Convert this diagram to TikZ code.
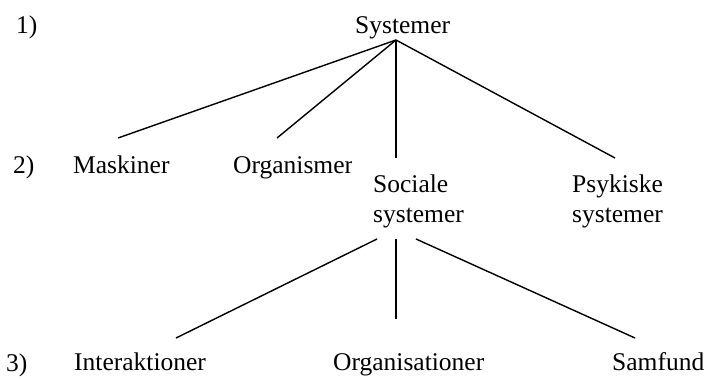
\documentclass[tikz,border=0pt]{standalone}
\usepackage{fontspec}
\setmainfont{Liberation Serif}
\begin{document}
\begin{tikzpicture}[x=1pt,y=-1pt,
  lbl/.style={anchor=base west,inner sep=0pt,font=\fontsize{25.5}{30}\selectfont},
  link/.style={draw=black,line width=1.4pt}]
\useasboundingbox (0,0) rectangle (708,378);

% level markers
\node[lbl] (l1) at (16,33) {1)};
\node[lbl] (l2) at (13,173) {2)};
\node[lbl] (l3) at (6,371) {3)};

% level 1
\node[lbl] (sys) at (355,33) {Systemer};

% level 2
\node[lbl] (mask) at (73,173) {Maskiner};
\begin{scope}
  % the text box of this label is narrower than the word
  \clip (220,140) rectangle (351,185);
  \node[lbl] (org) at (233,173) {Organismer};
\end{scope}
\node[lbl] (soc1) at (373,192) {Sociale};
\node[lbl] (soc2) at (373,222) {systemer};
\node[lbl] (psy1) at (572,192) {Psykiske};
\node[lbl] (psy2) at (572,222) {systemer};

% level 3
\node[lbl] (inter) at (74,370) {Interaktioner};
\node[lbl] (orgs) at (333,370) {Organisationer};
\node[lbl] (samf) at (612,370) {Samfund};

% attachment points of the branches
\coordinate (sysJ) at (396,40);
\coordinate (maskJ) at (118,138);
\coordinate (orgJ) at (277,138);
\coordinate (socJ) at (396,158);
\coordinate (psyJ) at (615,158);
\coordinate (socL) at (377,239);
\coordinate (socM) at (396,239);
\coordinate (socR) at (416,239);
\coordinate (interJ) at (176,338);
\coordinate (orgsJ) at (396,319);
\coordinate (samfJ) at (635,338);

% branches
\draw[link] (sysJ) -- (maskJ);
\draw[link] (sysJ) -- (orgJ);
\draw[link] (sysJ) -- (socJ);
\draw[link] (sysJ) -- (psyJ);
\draw[link] (socL) -- (interJ);
\draw[link] (socM) -- (orgsJ);
\draw[link] (socR) -- (samfJ);
\end{tikzpicture}
\end{document}
